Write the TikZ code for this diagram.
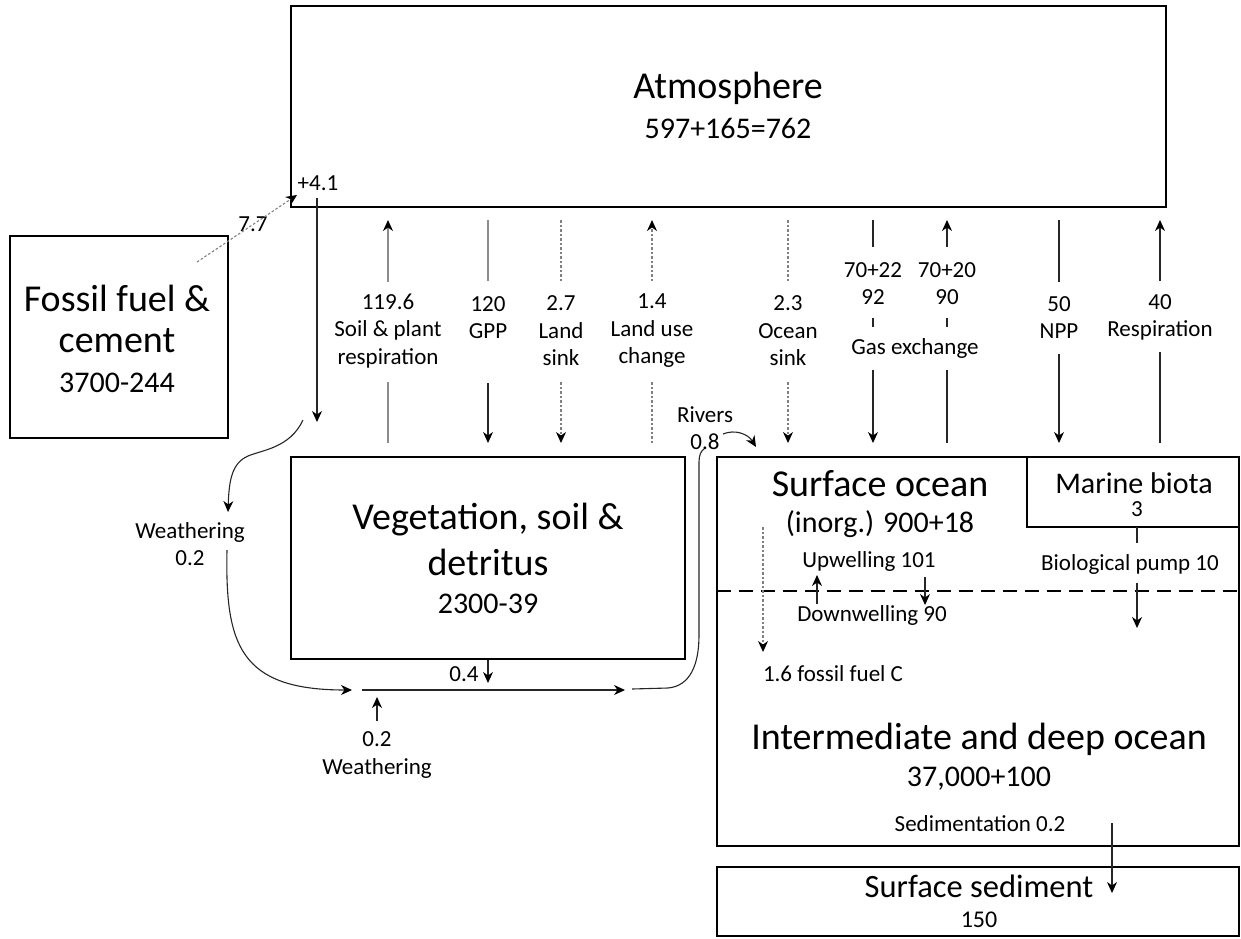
\documentclass[tikz,border=0pt]{standalone}
\usepackage{fontspec}
\setmainfont{Carlito}
\usetikzlibrary{arrows.meta}
\begin{document}
\begin{tikzpicture}[x=1pt,y=-1pt,
  box/.style={draw, line width=2.4pt, inner sep=0pt},
  tx/.style={inner sep=0pt, align=center},
  bigt/.style={tx, font=\fontsize{38}{46}\selectfont},
  numt/.style={tx, font=\fontsize{30}{36}\selectfont},
  midt/.style={tx, font=\fontsize{32.5}{38}\selectfont},
  smt/.style={tx, font=\fontsize{23}{27.5}\selectfont},
  flow/.style={line width=1.1pt, draw=black!85},
  gflow/.style={line width=1.1pt, draw=black!45},
  dflow/.style={line width=1.1pt, draw=black!50, dash pattern=on 2.5pt off 2pt},
  tip/.style={-{Stealth[length=11pt,width=10pt,inset=3.5pt,color=black]}},
]
\useasboundingbox (0,0) rectangle (1241,938);

% ---------- boxes ----------
\node[box, minimum width=875pt, minimum height=201pt] (atm) at (728.5,106.5) {};
\node[box, minimum width=218pt, minimum height=202pt] (foss) at (119,337) {};
\node[box, minimum width=394pt, minimum height=202pt] (veg) at (488,558) {};
\node[box, minimum width=522pt, minimum height=389pt] (ocean) at (978,651.5) {};
\node[box, minimum width=212pt, minimum height=70pt] (biota) at (1133,492) {};
\node[box, minimum width=522pt, minimum height=69pt] (sed) at (978,901.5) {};

% ---------- box texts ----------
\node[bigt] (atmT) at (728,88) {Atmosphere};
\node[numt] (atmN) at (728,128) {597+165=762};
\node[bigt] (fosT1) at (117,298) {Fossil fuel \&};
\node[bigt] (fosT2) at (117,341) {cement};
\node[numt] (fosN) at (117,383) {3700-244};
\node[bigt] (vegT1) at (488,520) {Vegetation, soil \&};
\node[bigt] (vegT2) at (488,562) {detritus};
\node[numt] (vegN) at (488,604) {2300-39};
\node[bigt] (socT) at (880,484) {Surface ocean};
\node[numt] (socN) at (880,524) {(inorg.) 900+18};
\node[numt] (bioT) at (1134,483) {Marine biota};
\node[smt] (bioN) at (1137,509) {3};
\node[bigt] (docT) at (979,739) {Intermediate and deep ocean};
\node[numt] (docN) at (979,779) {37,000+100};
\node[midt] (sedT) at (979,886) {Surface sediment};
\node[tx, font=\fontsize{24}{28}\selectfont] (sedN) at (979,920) {150};

% ---------- ocean divider ----------
\coordinate (dl) at (717,591);
\coordinate (dr) at (1239,591);
\draw[line width=1.4pt, dash pattern=on 14pt off 8pt] (dl) -- (dr);

% ---------- flux labels ----------
\node[smt] (f1) at (388,331) {119.6\\Soil \& plant\\respiration};
\node[smt] (f2) at (488,317.5) {120\\GPP};
\node[smt] (f3) at (561,331) {2.7\\Land\\sink};
\node[smt] (f4) at (652,331) {1.4\\Land use\\change};
\node[smt] (f5) at (788,331) {2.3\\Ocean\\sink};
\node[smt] (f6) at (873,283.5) {70+22\\92};
\node[smt] (f7) at (947,283.5) {70+20\\90};
\node[smt] (gx) at (915,348) {Gas exchange};
\node[smt] (f8) at (1059,317.5) {50\\NPP};
\node[smt] (f9) at (1160,317.5) {40\\Respiration};

\node[smt] (p41) at (318,183) {+4.1};
\node[smt] (l77) at (253,224) {7.7};
\node[smt] (wl) at (190,544) {Weathering\\0.2};
\node[smt] (l04) at (464,674) {0.4};
\node[smt] (wb) at (377,755) {0.2\\Weathering};
\node[smt] (riv) at (705,428) {Rivers\\0.8};
\node[smt] (upw) at (869,561) {Upwelling 101};
\node[smt] (dnw) at (872,615) {Downwelling 90};
\node[smt] (bpump) at (1130,564) {Biological pump 10};
\node[smt] (ffc) at (833,674) {1.6 fossil fuel C};
\node[smt] (sedm) at (980,824) {Sedimentation 0.2};

% ---------- flux connector coordinates ----------
\foreach \n/\x in {1/388,2/488,3/561,4/652,5/788,6/873,7/947,8/1059,9/1160}{
  \coordinate (t\n) at (\x,220);
  \coordinate (b\n) at (\x,443);
}
\coordinate (m1a) at (388,282); \coordinate (m1b) at (388,382);
\coordinate (m2a) at (488,281); \coordinate (m2b) at (488,383);
\coordinate (m3a) at (561,281); \coordinate (m3b) at (561,382);
\coordinate (m4a) at (652,281); \coordinate (m4b) at (652,382);
\coordinate (m5a) at (788,281); \coordinate (m5b) at (788,382);
\coordinate (m6a) at (873,247); \coordinate (m6b) at (873,370);
\coordinate (m6c) at (873,318); \coordinate (m6d) at (873,327);
\coordinate (m7a) at (947,247); \coordinate (m7b) at (947,370);
\coordinate (m7c) at (947,318); \coordinate (m7d) at (947,327);
\coordinate (m8a) at (1059,282); \coordinate (m8b) at (1059,354);
\coordinate (m9a) at (1160,281); \coordinate (m9b) at (1160,352);

% 119.6 soil & plant respiration (up)
\draw[gflow,tip] (m1a) -- (t1);
\draw[gflow] (m1b) -- (b1);
% 120 GPP (down)
\draw[gflow] (t2) -- (m2a);
\draw[flow,tip] (m2b) -- (b2);
% 2.7 land sink (down, dotted)
\draw[dflow] (t3) -- (m3a);
\draw[dflow,tip] (m3b) -- (b3);
% 1.4 land use change (up, dotted)
\draw[dflow,tip] (m4a) -- (t4);
\draw[dflow] (m4b) -- (b4);
% 2.3 ocean sink (down, dotted)
\draw[dflow] (t5) -- (m5a);
\draw[dflow,tip] (m5b) -- (b5);
% gas exchange 92 (down)
\draw[flow] (t6) -- (m6a);
\draw[flow] (m6c) -- (m6d);
\draw[flow,tip] (m6b) -- (b6);
% gas exchange 90 (up)
\draw[flow,tip] (m7a) -- (t7);
\draw[flow] (m7c) -- (m7d);
\draw[flow] (m7b) -- (b7);
% 50 NPP (down)
\draw[flow] (t8) -- (m8a);
\draw[flow,tip] (m8b) -- (b8);
% 40 respiration (up)
\draw[flow,tip] (m9a) -- (t9);
\draw[flow] (m9b) -- (b9);

% ---------- fossil fuel & +4.1 ----------
\coordinate (ff0) at (197,262);
\coordinate (ff1) at (297,195);
\draw[dflow,tip] (ff0) -- (ff1);
\coordinate (d41a) at (317,198);
\coordinate (d41b) at (317,422);
\draw[flow,tip] (d41a) -- (d41b);

% ---------- weathering (left) ----------
\coordinate (w0) at (303,420);
\coordinate (w1) at (228,512);
\draw[flow,tip] (w0) .. controls (290,448) and (262,450) .. (248,456)
                     .. controls (232,463) and (229,480) .. (w1);
\coordinate (w2) at (227,550);
\coordinate (w3) at (352,690);
\draw[flow,tip] (w2) .. controls (225,645) and (240,690) .. (w3);

% ---------- river line under vegetation ----------
\coordinate (h0) at (362,690);
\coordinate (h1) at (625,690);
\draw[flow,tip] (h0) -- (h1);
\coordinate (v04a) at (488,660);
\coordinate (v04b) at (488,683);
\draw[flow,tip] (v04a) -- (v04b);
\coordinate (wba) at (377,721);
\coordinate (wbb) at (377,697);
\draw[flow,tip] (wba) -- (wbb);

% ---------- rivers ----------
\coordinate (r0) at (632,689);
\coordinate (r1) at (704,449);
\draw[flow] (r0) -- (668,688) .. controls (690,686) and (699,665) .. (699,635)
   -- (699,462) .. controls (699,455) and (701,451) .. (r1);
\coordinate (ra) at (723,434);
\coordinate (rb) at (756,447);
\draw[flow,tip] (ra) .. controls (735,429) and (748,434) .. (rb);

% ---------- ocean internal fluxes ----------
\coordinate (fc0) at (763,527);
\coordinate (fc1) at (763,652);
\draw[dflow,tip] (fc0) -- (fc1);
\coordinate (up0) at (817,604);
\coordinate (up1) at (817,575);
\draw[flow,tip] (up0) -- (up1);
\coordinate (dn0) at (925,577);
\coordinate (dn1) at (925,605);
\draw[flow,tip] (dn0) -- (dn1);
\coordinate (bp0) at (1137,527);
\coordinate (bp1) at (1137,543);
\draw[flow] (bp0) -- (bp1);
\coordinate (bp2) at (1137,583);
\coordinate (bp3) at (1137,628);
\draw[flow,tip] (bp2) -- (bp3);
\coordinate (sd0) at (1112,823);
\coordinate (sd1) at (1112,893);
\draw[flow,tip] (sd0) -- (sd1);

\end{tikzpicture}
\end{document}
